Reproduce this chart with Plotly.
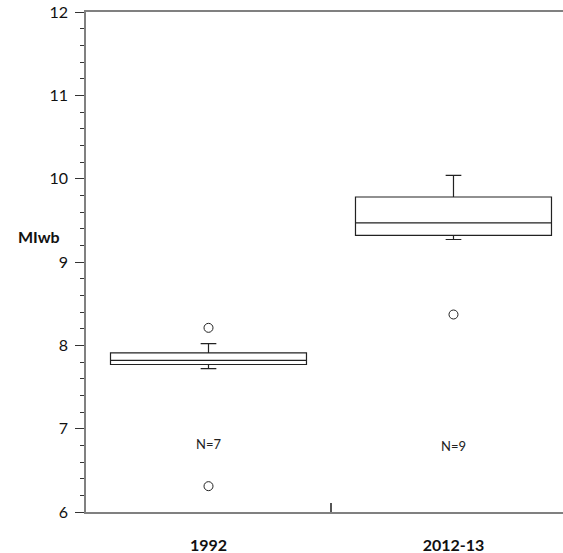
import plotly.graph_objects as go

categories = ["1992", "2012-13"]
q1 = [7.77, 9.32]
median = [7.82, 9.47]
q3 = [7.91, 9.78]
lower_whisker = [7.72, 9.27]
upper_whisker = [8.02, 10.04]
outliers = [[8.21, 6.31], [8.37]]
n_labels = ["N=7", "N=9"]
n_label_y = [6.80, 6.77]

FONT = "Lato, 'Open Sans', sans-serif"

fig = go.Figure()
for i, cat in enumerate(categories):
    fig.add_trace(go.Box(
        x=[i], q1=[q1[i]], median=[median[i]], q3=[q3[i]],
        lowerfence=[lower_whisker[i]], upperfence=[upper_whisker[i]],
        width=0.8, whiskerwidth=0.08,
        fillcolor="white", line=dict(color="#222222", width=1.2),
        boxpoints=False, showlegend=False, hoverinfo="skip",
    ))
    fig.add_trace(go.Scatter(
        x=[i] * len(outliers[i]), y=outliers[i], mode="markers",
        marker=dict(symbol="circle-open", size=9, color="#222222", line=dict(width=1)),
        showlegend=False, hoverinfo="skip",
    ))
    fig.add_trace(go.Scatter(
        x=[i], y=[n_label_y[i]], mode="text", text=[n_labels[i]],
        textfont=dict(family=FONT, size=13, color="#222222"),
        showlegend=False, hoverinfo="skip",
    ))

fig.update_layout(
    width=563, height=553,
    margin=dict(l=86, r=0, t=12, b=41),
    plot_bgcolor="white", paper_bgcolor="white",
    font=dict(family=FONT, color="#222222"),
    xaxis=dict(
        range=[-0.5, 1.447], showgrid=False, zeroline=False,
        showline=True, linecolor="#808080", linewidth=1.5, mirror=True,
        tickmode="array", tickvals=[0, 1],
        ticktext=["<b>%s</b>" % c for c in categories],
        ticks="", tickfont=dict(size=16, family=FONT, color="#111111"),
        ticklabelstandoff=18,
        minor=dict(tickmode="array", tickvals=[0.5], ticks="inside", ticklen=9,
                   tickcolor="#555555", tickwidth=1.5, showgrid=False),
    ),
    yaxis=dict(
        range=[6, 12], showgrid=False, zeroline=False,
        showline=True, linecolor="#808080", linewidth=1.5,
        tickmode="linear", tick0=6, dtick=1,
        ticks="outside", ticklen=9, tickcolor="#333333", tickwidth=1,
        tickfont=dict(size=16, family=FONT, color="#111111"),
        ticklabelstandoff=4,
        minor=dict(dtick=0.2, ticks="outside", ticklen=4, tickcolor="#333333", tickwidth=1, showgrid=False),
    ),
    annotations=[dict(
        text="<b>MIwb</b>", xref="paper", yref="y", x=-0.0975, y=9.31,
        xanchor="center", yanchor="middle", showarrow=False,
        font=dict(size=16, family=FONT, color="#111111"),
    )],
)

fig.write_html(
    "out.html",
    config={"displayModeBar": False},
    post_script="document.body.style.margin='0';document.body.style.overflow='hidden';",
)
